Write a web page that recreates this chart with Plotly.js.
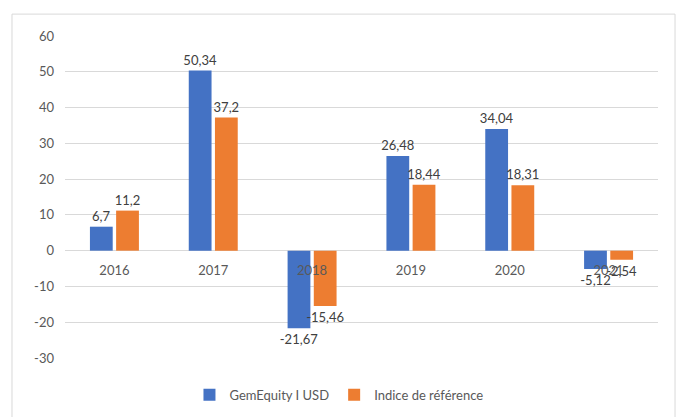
<!DOCTYPE html>
<html>
<head>
<meta charset="utf-8">
<script src="https://cdn.plot.ly/plotly-3.0.1.min.js"></script>
<style>html,body{margin:0;padding:0;background:#fff}#chart{width:676px;height:417px}</style>
</head>
<body>
<div id="chart"></div>
<script>
const categories = ['2016', '2017', '2018', '2019', '2020', '2021'];
const seriesNames = ['GemEquity I USD', 'Indice de référence'];
const gemEquity = [6.7, 50.34, -21.67, 26.48, 34.04, -5.12];
const indice = [11.2, 37.2, -15.46, 18.44, 18.31, -2.54];
const yTickVals = [-30, -20, -10, 0, 10, 20, 30, 40, 50, 60];

const fmt = v => String(v).replace('.', ',');
const font = 'Lato, "Open Sans", sans-serif';

const mk = (name, vals, color) => ({
  type: 'bar', name: name, x: categories, y: vals,
  marker: {color: color},
  text: vals.map(fmt), textposition: 'outside', cliponaxis: false, constraintext: 'none',
  textfont: {family: font, size: 13, color: '#404040'},
  hoverinfo: 'skip'
});

const data = [
  mk(seriesNames[0], gemEquity, '#4472C4'),
  mk(seriesNames[1], indice, '#ED7D31')
];

const layout = {
  width: 676, height: 417,
  margin: {l: 65, r: 18, t: 36, b: 59, autoexpand: false},
  paper_bgcolor: '#fff', plot_bgcolor: '#fff',
  font: {family: font, size: 13, color: '#595959'},
  barmode: 'group', bargap: 0.47, bargroupgap: 0.13,
  uniformtext: {mode: false},
  showlegend: true,
  legend: {orientation: 'h', x: 0.462, xanchor: 'center', yref: 'container', y: 0.053, yanchor: 'middle',
           font: {family: font, size: 13, color: '#595959'}, itemwidth: 30, traceorder: 'normal'},
  xaxis: {anchor: 'free', position: 1/3, showline: false, showgrid: false, zeroline: false,
          ticks: 'outside', ticklen: 8, tickcolor: 'rgba(0,0,0,0)', tickfont: {family: font, size: 13, color: '#595959'}},
  yaxis: {range: [-30, 60], tickvals: yTickVals, ticktext: yTickVals.map(v => String(v)),
          showgrid: true, gridcolor: '#d9d9d9', gridwidth: 1, zeroline: true, zerolinecolor: '#d9d9d9', zerolinewidth: 1,
          showline: false, ticks: '', ticklabelstandoff: 10, tickfont: {family: font, size: 13, color: '#595959'}},
  shapes: [{type: 'rect', xref: 'paper', yref: 'paper', x0: -0.0894, x1: 1.0287, y0: -0.4, y1: 1.068,
            line: {color: '#d9d9d9', width: 1}, layer: 'below'}]
};

Plotly.newPlot('chart', data, layout, {displayModeBar: false, staticPlot: true});
</script>
</body>
</html>
